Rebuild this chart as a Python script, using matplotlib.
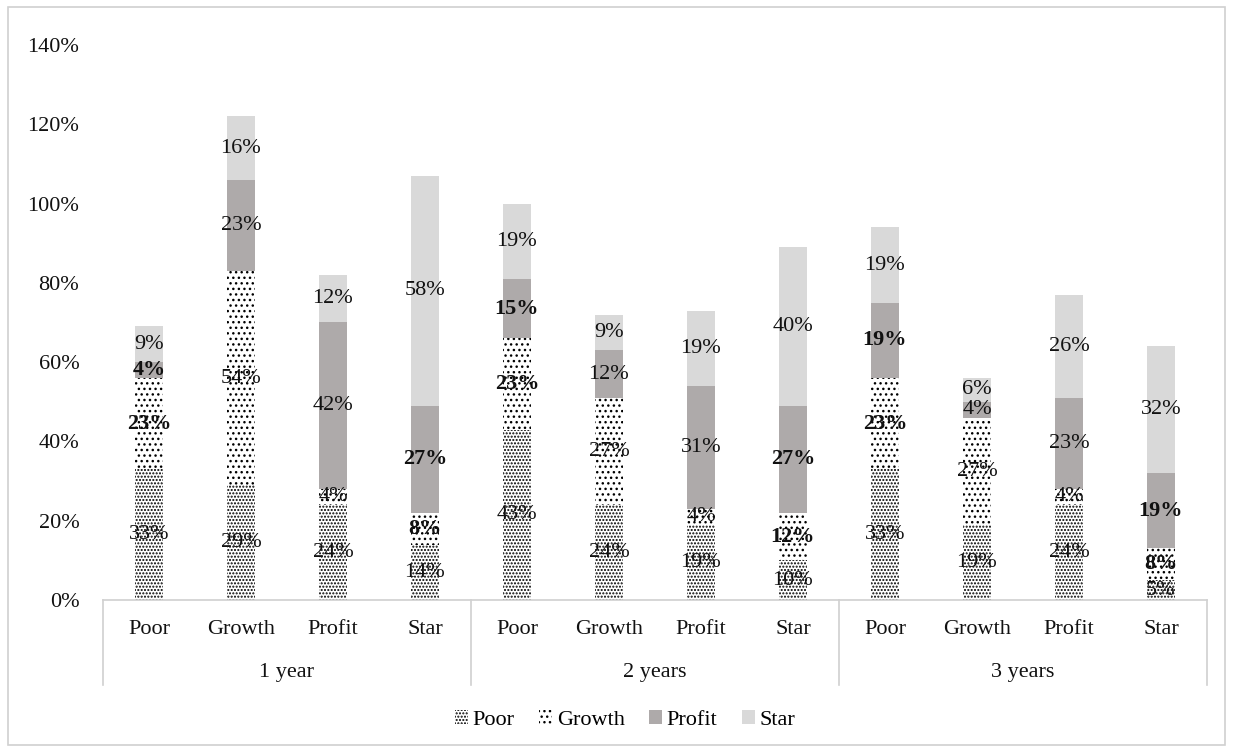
import numpy as np
import matplotlib.pyplot as plt
from matplotlib.patches import Patch, Rectangle
from matplotlib.lines import Line2D
import matplotlib.transforms as mtransforms

plt.rcParams['font.family'] = ['Liberation Serif', 'DejaVu Serif']
plt.rcParams['hatch.linewidth'] = 1.0

# stacked shares (%) for each type, grouped by horizon
groups = ["1 year", "2 years", "3 years"]
types = ["Poor", "Growth", "Profit", "Star"]
poor = [33, 29, 24, 14, 43, 24, 19, 10, 33, 19, 24, 5]
growth = [23, 54, 4, 8, 23, 27, 4, 12, 23, 27, 4, 8]
profit = [4, 23, 42, 27, 15, 12, 31, 27, 19, 4, 23, 19]
star = [9, 16, 12, 58, 19, 9, 19, 40, 19, 6, 26, 32]
# labels shown in bold (Growth and Profit parts of Poor / Star bars)
bold_types = ["Poor", "Star"]

series = [("Poor", poor), ("Growth", growth), ("Profit", profit), ("Star", star)]
styles = {
    "Poor": dict(facecolor="white", edgecolor="black", hatch="....."),
    "Growth": dict(facecolor="white", edgecolor="black", hatch="..."),
    "Profit": dict(facecolor="#aeaaaa", edgecolor="#aeaaaa", hatch=None),
    "Star": dict(facecolor="#d9d9d9", edgecolor="#d9d9d9", hatch=None),
}
fs = 16
txt = "#111111"

fig = plt.figure(figsize=(12.33, 7.52), dpi=100)
ax = fig.add_axes([0.0835, 0.2021, 0.8954, 0.7381])

cats = [t for g in groups for t in types]
x = np.arange(len(cats))
bottom = np.zeros(len(cats))
for name, vals in series:
    vals = np.array(vals, dtype=float)
    ax.bar(x, vals / 100, width=0.30, bottom=bottom / 100, linewidth=0,
           **styles[name])
    for i, v in enumerate(vals):
        bold = name in ("Growth", "Profit") and cats[i] in bold_types
        ax.text(x[i], (bottom[i] + v / 2) / 100, f"{int(v)}%",
                ha="center", va="center", fontsize=fs,
                fontweight="bold" if bold else "normal", color=txt)
    bottom += vals

ax.set_xlim(-0.5, len(cats) - 0.5)
ax.set_ylim(0, 1.4)
ax.set_yticks(np.arange(0, 1.41, 0.2))
ax.set_yticklabels([f"{int(round(v * 100))}%" for v in np.arange(0, 1.41, 0.2)])
ax.tick_params(axis="y", length=0, pad=17, labelsize=fs, colors=txt)
ax.set_xticks([])
for s in ["top", "right", "left"]:
    ax.spines[s].set_visible(False)
ax.spines["bottom"].set_color("#d0d0d0")
ax.spines["bottom"].set_linewidth(1.2)

# two-level category axis
trans = mtransforms.blended_transform_factory(ax.transData, ax.transAxes)
px = 1 / (0.7381 * 752)
for i, c in enumerate(cats):
    ax.text(x[i], -29 * px, c, transform=trans, ha="center", va="center",
            fontsize=fs, color=txt)
for gi, g in enumerate(groups):
    ax.text(gi * 4 + 1.5, -72 * px, g, transform=trans, ha="center",
            va="center", fontsize=fs, color=txt)
for b in [-0.5, 3.5, 7.5, 11.5]:
    ax.add_line(Line2D([b, b], [0, -85 * px], transform=trans, color="#d0d0d0",
                       linewidth=1.2, clip_on=False))

handles = [Patch(label=n, linewidth=0, **styles[n]) for n, _ in series]
fig.legend(handles=handles, loc="center", bbox_to_anchor=(0.507, 0.043),
           ncol=4, frameon=False, fontsize=fs, handlelength=0.6,
           handleheight=0.6, handletextpad=0.2, columnspacing=1.1)

fig.patches.append(Rectangle((8 / 1233, 7 / 752), 1 - 16 / 1233, 1 - 14 / 752,
                             transform=fig.transFigure, fill=False,
                             edgecolor="#d0d0d0", linewidth=1.2))

fig.savefig("out.png", dpi=100)
